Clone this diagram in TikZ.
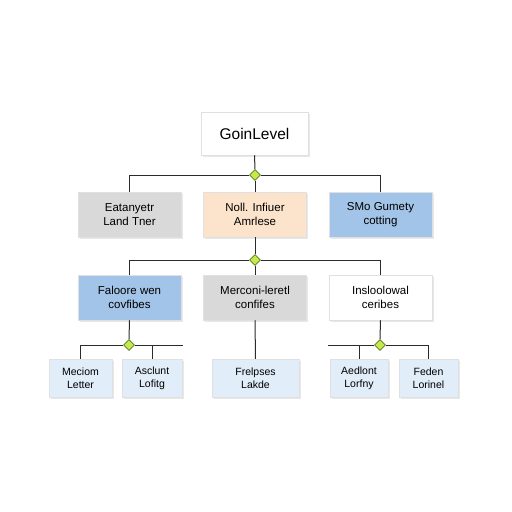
\documentclass[tikz,border=0pt]{standalone}
\usepackage{fontspec}
\setmainfont{Liberation Sans}
\usetikzlibrary{shapes.geometric,shadows}
\definecolor{gbox}{HTML}{D9D9D9}
\definecolor{pbox}{HTML}{FCE4CC}
\definecolor{bbox}{HTML}{A2C4E8}
\definecolor{lbox}{HTML}{E1EDF8}
\definecolor{dia}{HTML}{C8E84A}
\definecolor{diab}{HTML}{4E7A1E}
\definecolor{ln}{HTML}{2B2B2B}
\tikzset{
  box/.style={draw=black!12, line width=0.5pt, minimum width=103pt, minimum height=45pt, inner sep=0pt, align=center, font=\fontsize{11.5}{14}\selectfont, drop shadow={opacity=0.18, shadow xshift=1.5pt, shadow yshift=-2pt}},
  small/.style={box, minimum width=60pt, minimum height=38pt, fill=lbox, font=\fontsize{10.5}{13}\selectfont},
  junc/.style={diamond, draw=diab, fill=dia, line width=0.7pt, minimum width=11pt, minimum height=11pt, inner sep=0pt},
  conn/.style={draw=ln, line width=1pt}
}
\begin{document}
\begin{tikzpicture}[x=1pt,y=-1pt]
\useasboundingbox[fill=white] (0,0) rectangle (512,512);
% top
\node[box, fill=white, minimum width=107pt, minimum height=43pt, font=\fontsize{15.5}{18}\selectfont] (top) at (254.5,133.5) {GoinLevel};
% row 2
\node[box, fill=gbox] (a1) at (129.5,214.5) {Eatanyetr\\Land Tner};
\node[box, fill=pbox] (a2) at (255,214.5) {Noll. Infiuer\\Amrlese};
\node[box, fill=bbox] (a3) at (380.5,214.5) {SMo Gumety\\cotting};
% row 3
\node[box, fill=bbox] (b1) at (129.5,297.5) {Faloore wen\\covfibes};
\node[box, fill=gbox] (b2) at (255,297.5) {Merconi-leretl\\confifes};
\node[box, fill=white] (b3) at (380.5,297.5) {Insloolowal\\ceribes};
% row 4
\node[small, minimum width=63pt] (c1) at (80.5,378) {Meciom\\Letter};
\node[small, minimum width=60pt] (c2) at (152,378) {Asclunt\\Lofitg};
\node[small, minimum width=87pt] (c3) at (255.5,378) {Frelpses\\Lakde};
\node[small, minimum width=58pt] (c4) at (359,378) {Aedlont\\Lorfny};
\node[small, minimum width=59pt] (c5) at (428.5,378) {Feden\\Lorinel};
% junctions
\node[junc] (j1) at (255,175) {};
\node[junc] (j2) at (255,260) {};
\node[junc] (j3) at (129,345) {};
\node[junc] (j4) at (380,345) {};
\coordinate (h3r) at (183,345);
\coordinate (h4l) at (328,345);
% connectors
\draw[conn] (top.south) -- (j1.north);
\draw[conn] (a1.north) |- (j1.west);
\draw[conn] (a3.north) |- (j1.east);
\draw[conn] (j1.south) -- (a2.north);
\draw[conn] (a2.south) -- (j2.north);
\draw[conn] (b1.north) |- (j2.west);
\draw[conn] (b3.north) |- (j2.east);
\draw[conn] (j2.south) -- (b2.north);
\draw[conn] (b1.south) -- (j3.north);
\draw[conn] (c1.north) |- (j3.west);
\draw[conn] (j3.east) -- (h3r);
\draw[conn] (c2.north) -- (c2.north |- h3r);
\draw[conn] (b2.south) -- (c3.north);
\draw[conn] (b3.south) -- (j4.north);
\draw[conn] (h4l) -- (j4.west);
\draw[conn] (c4.north) -- (c4.north |- h4l);
\draw[conn] (c5.north) |- (j4.east);
\end{tikzpicture}
\end{document}
